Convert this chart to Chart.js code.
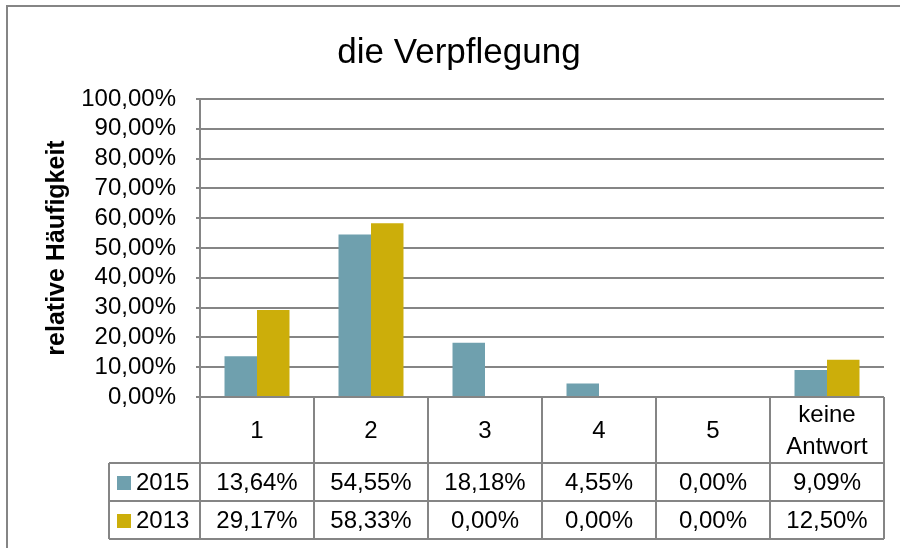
<!DOCTYPE html>
<html>
<head>
<meta charset="utf-8">
<title>die Verpflegung</title>
<script src="https://cdn.jsdelivr.net/npm/chart.js@4"></script>
<style>
    html, body { margin: 0; padding: 0; background: #fff; }
    #wrap { width: 900px; height: 548px; }
</style>
</head>
<body>
<div id="wrap"><canvas id="chart" width="900" height="548"></canvas></div>
<script>
// Kategorien und Werte (relative Häufigkeit in %)
const categories = ['1', '2', '3', '4', '5', ['keine', 'Antwort']];
const seriesNames = ['2015', '2013'];
const values2015 = [13.64, 54.55, 18.18, 4.55, 0.00, 9.09];
const values2013 = [29.17, 58.33, 0.00, 0.00, 0.00, 12.50];
const yTicks = [0, 10, 20, 30, 40, 50, 60, 70, 80, 90, 100];

const colors = ['#6fa0ae', '#ccae0a'];
const lineGray = '#858585';
const fontFamily = '"Liberation Sans", Arial, Helvetica, sans-serif';

const fmt = v => v.toFixed(2).replace('.', ',') + '%';

// Rahmen, Titel, Achsentitel und Datentabelle unter dem Diagramm
const tablePlugin = {
    id: 'dataTable',
    beforeDraw(chart) {
        const ctx = chart.ctx;
        ctx.save();
        ctx.fillStyle = '#fff';
        ctx.fillRect(0, 0, chart.width, chart.height);
        ctx.strokeStyle = lineGray;
        ctx.lineWidth = 2;
        ctx.strokeRect(7, 6, 930, 600);
        ctx.restore();
    },
    afterDraw(chart) {
        const ctx = chart.ctx;
        const area = chart.chartArea;
        const n = categories.length;
        const colW = (area.right - area.left) / n;
        const headerBottom = area.bottom + 66;
        const rowH = 38;
        const tableLeft = 109;

        ctx.save();
        // Titel
        ctx.fillStyle = '#000';
        ctx.font = '35px ' + fontFamily;
        ctx.textAlign = 'center';
        ctx.textBaseline = 'alphabetic';
        ctx.fillText('die Verpflegung', 459, 63);

        // Achsentitel
        ctx.save();
        ctx.translate(57, (area.top + area.bottom) / 2);
        ctx.rotate(-Math.PI / 2);
        ctx.font = 'bold 25px ' + fontFamily;
        ctx.textBaseline = 'middle';
        ctx.fillText('relative Häufigkeit', 0, 0);
        ctx.restore();

        // Tabellenlinien
        ctx.strokeStyle = lineGray;
        ctx.lineWidth = 2;
        ctx.beginPath();
        for (let i = 0; i <= n; i++) {
            const x = Math.round(area.left + i * colW);
            ctx.moveTo(x, area.bottom);
            ctx.lineTo(x, headerBottom + 2 * rowH);
        }
        ctx.moveTo(tableLeft, headerBottom);
        ctx.lineTo(tableLeft, headerBottom + 2 * rowH);
        for (let r = 0; r <= 2; r++) {
            const y = headerBottom + r * rowH;
            ctx.moveTo(tableLeft, y);
            ctx.lineTo(area.right, y);
        }
        ctx.stroke();

        // Kategorien
        ctx.font = '24px ' + fontFamily;
        ctx.textAlign = 'center';
        ctx.textBaseline = 'middle';
        const xScale = chart.scales.x;
        categories.forEach((c, i) => {
            const cx = xScale.getPixelForValue(i);
            const lines = Array.isArray(c) ? c : [c];
            const mid = (area.bottom + headerBottom) / 2 + 1;
            lines.forEach((t, k) => {
                ctx.fillText(t, cx, mid + (k - (lines.length - 1) / 2) * 32);
            });
        });

        // Wertezeilen mit Legendensymbol
        [values2015, values2013].forEach((vals, r) => {
            const cy = headerBottom + r * rowH + rowH / 2 + 1;
            ctx.fillStyle = colors[r];
            ctx.fillRect(117, cy - 7, 14, 14);
            ctx.fillStyle = '#000';
            ctx.textAlign = 'left';
            ctx.fillText(seriesNames[r], 136, cy);
            ctx.textAlign = 'center';
            vals.forEach((v, i) => {
                ctx.fillText(fmt(v), xScale.getPixelForValue(i), cy);
            });
        });
        ctx.restore();
    }
};

new Chart(document.getElementById('chart').getContext('2d'), {
    type: 'bar',
    data: {
        labels: categories,
        datasets: [
            { label: seriesNames[0], data: values2015, backgroundColor: colors[0] },
            { label: seriesNames[1], data: values2013, backgroundColor: colors[1] }
        ]
    },
    options: {
        responsive: false,
        animation: false,
        devicePixelRatio: 1,
        layout: { padding: { left: 0, top: 99, right: 16, bottom: 151 } },
        datasets: { bar: { categoryPercentage: 0.57, barPercentage: 1.0 } },
        plugins: {
            legend: { display: false },
            title: { display: false },
            tooltip: { enabled: false }
        },
        scales: {
            x: { display: false },
            y: {
                min: 0,
                max: 100,
                afterFit: s => { s.width = 200; },
                afterBuildTicks: s => { s.ticks = yTicks.map(v => ({ value: v })); },
                grid: { color: lineGray, lineWidth: 2, tickLength: 4 },
                border: { color: lineGray, width: 2 },
                ticks: {
                    autoSkip: false,
                    color: '#000',
                    padding: 20,
                    font: { family: fontFamily, size: 24 },
                    callback: v => fmt(v)
                }
            }
        }
    },
    plugins: [tablePlugin]
});
</script>
</body>
</html>
